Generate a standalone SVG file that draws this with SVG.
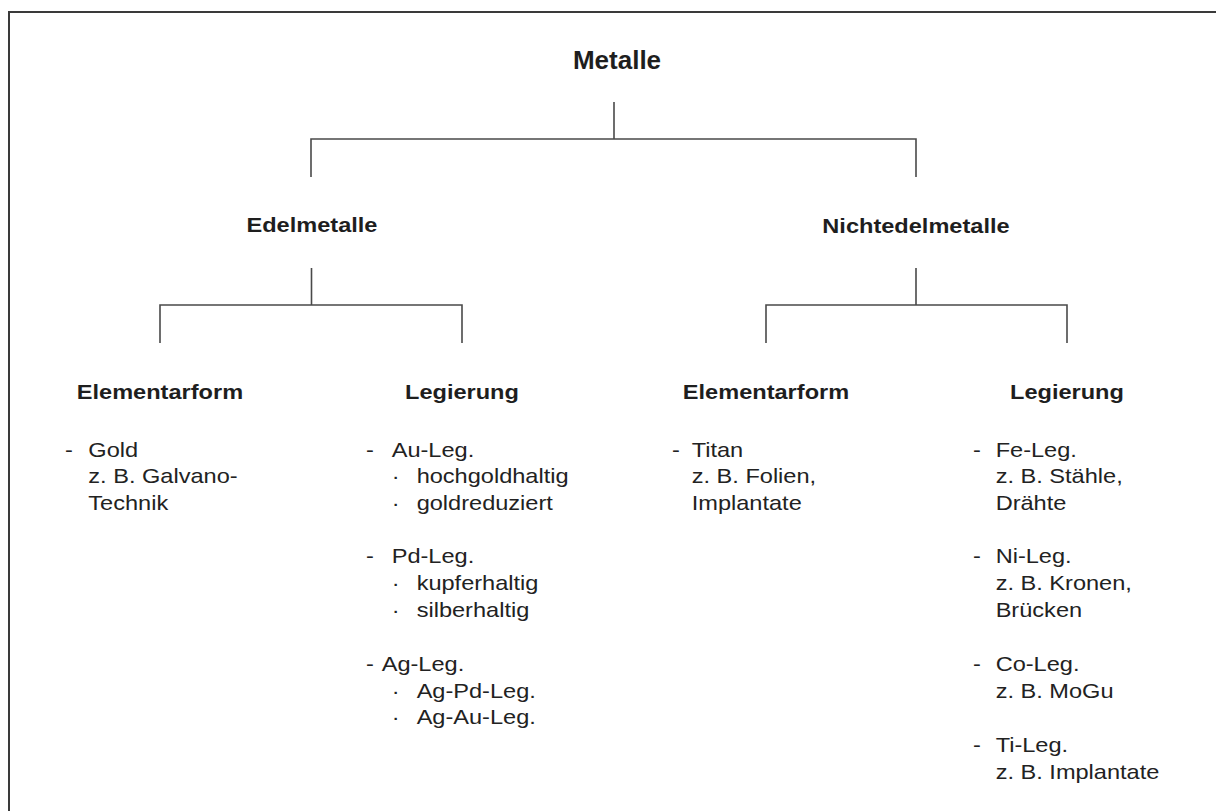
<svg xmlns="http://www.w3.org/2000/svg" width="1216" height="811" viewBox="0 0 1216 811">
<style>
  .frame{fill:#fff;stroke:#3a3a3a;stroke-width:2}
  .conn{fill:none;stroke:#4a4a4a;stroke-width:1.6}
  .h{font-family:"Liberation Sans",Arial,sans-serif;font-weight:bold;fill:#1e1e1e;text-anchor:middle}
  .h2{font-size:20.5px}
  .t{font-family:"Liberation Sans",Arial,sans-serif;font-size:20.5px;fill:#222}
</style>
<rect class="frame" x="9" y="12" width="1240" height="840"/>
<g id="connectors">
  <path class="conn" d="M614 102V139M311 177V139H916V177"/>
  <path class="conn" d="M311.5 268V305M160 343V305H462V343"/>
  <path class="conn" d="M916 268V305M766 343V305H1067V343"/>
</g>
<g id="metalle">
  <text class="h" x="617" y="68.5" font-size="26">Metalle</text>
</g>
<g transform="scale(1.15 1)">
  <g id="edelmetalle"><text class="h h2" x="271.3" y="232.5">Edelmetalle</text></g>
  <g id="nichtedelmetalle"><text class="h h2" x="796.5" y="233">Nichtedelmetalle</text></g>
  <g id="edel-elementarform">
    <text class="h h2" x="139.1" y="399">Elementarform</text>
    <text class="t" x="56.5" y="456.7">-</text>
    <text class="t" x="76.8" y="456.7">Gold</text>
    <text class="t" x="76.8" y="483.4">z. B. Galvano-</text>
    <text class="t" x="76.8" y="510.1">Technik</text>
  </g>
  <g id="edel-legierung">
    <text class="h h2" x="401.7" y="399">Legierung</text>
    <text class="t" x="318.3" y="456.7">-</text>
    <text class="t" x="340.6" y="456.7">Au-Leg.</text>
    <text class="t" x="340.6" y="483.4">·</text>
    <text class="t" x="362.3" y="483.4">hochgoldhaltig</text>
    <text class="t" x="340.6" y="510.1">·</text>
    <text class="t" x="362.3" y="510.1">goldreduziert</text>
    <text class="t" x="318.3" y="563.5">-</text>
    <text class="t" x="340.6" y="563.5">Pd-Leg.</text>
    <text class="t" x="340.6" y="590.2">·</text>
    <text class="t" x="362.3" y="590.2">kupferhaltig</text>
    <text class="t" x="340.6" y="616.9">·</text>
    <text class="t" x="362.3" y="616.9">silberhaltig</text>
    <text class="t" x="318.3" y="670.9">-</text>
    <text class="t" x="331.9" y="670.9">Ag-Leg.</text>
    <text class="t" x="340.6" y="697.6">·</text>
    <text class="t" x="362.3" y="697.6">Ag-Pd-Leg.</text>
    <text class="t" x="340.6" y="724.3">·</text>
    <text class="t" x="362.3" y="724.3">Ag-Au-Leg.</text>
  </g>
  <g id="nicht-elementarform">
    <text class="h h2" x="666.1" y="399">Elementarform</text>
    <text class="t" x="584.3" y="456.7">-</text>
    <text class="t" x="601.5" y="456.7">Titan</text>
    <text class="t" x="601.5" y="483.4">z. B. Folien,</text>
    <text class="t" x="601.5" y="510.1">Implantate</text>
  </g>
  <g id="nicht-legierung">
    <text class="h h2" x="927.8" y="399">Legierung</text>
    <text class="t" x="846.1" y="456.7">-</text>
    <text class="t" x="865.8" y="456.7">Fe-Leg.</text>
    <text class="t" x="865.8" y="483.4">z. B. Stähle,</text>
    <text class="t" x="865.8" y="510.1">Drähte</text>
    <text class="t" x="846.1" y="563.5">-</text>
    <text class="t" x="865.8" y="563.5">Ni-Leg.</text>
    <text class="t" x="865.8" y="590.2">z. B. Kronen,</text>
    <text class="t" x="865.8" y="616.9">Brücken</text>
    <text class="t" x="846.1" y="670.9">-</text>
    <text class="t" x="865.8" y="670.9">Co-Leg.</text>
    <text class="t" x="865.8" y="697.6">z. B. MoGu</text>
    <text class="t" x="846.1" y="752.3">-</text>
    <text class="t" x="865.8" y="752.3">Ti-Leg.</text>
    <text class="t" x="865.8" y="779">z. B. Implantate</text>
  </g>
</g>
</svg>
